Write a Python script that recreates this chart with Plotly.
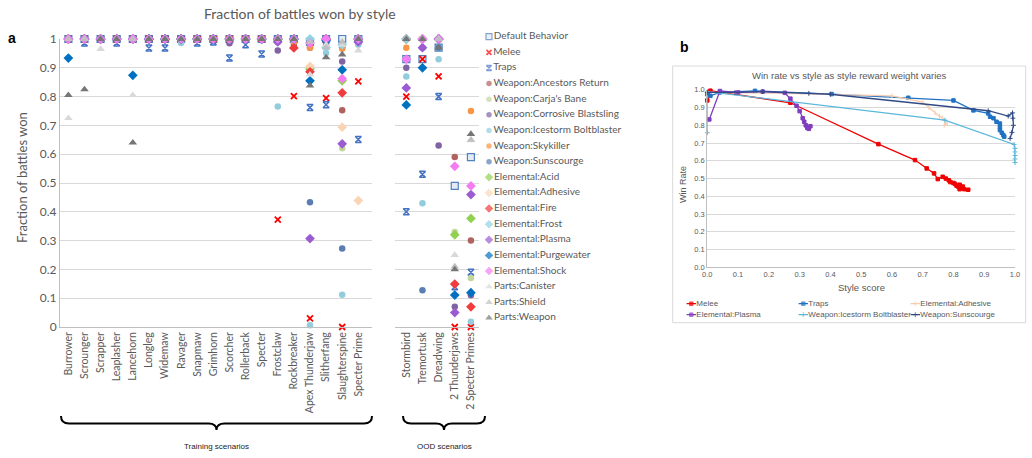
import plotly.graph_objects as go

W, H = 1032, 458


def fx(px):
    return px / W


def fy(py):
    return 1 - py / H


# ---------------- Panel a data ----------------
train_cats = ["Burrower", "Scrounger", "Scrapper", "Leaplasher", "Lancehorn", "Longleg", "Widemaw",
              "Ravager", "Snapmaw", "Grimhorn", "Scorcher", "Rollerback", "Specter", "Frostclaw",
              "Rockbreaker", "Apex Thunderjaw", "Slitherfang", "Slaughterspine", "Specter Prime"]
ood_cats = ["Stormbird", "Tremortusk", "Dreadwing", "2 Thunderjaws", "2 Specter Primes"]

series_names = ["Default Behavior", "Melee", "Traps", "Weapon:Ancestors Return", "Weapon:Carja's Bane",
                "Weapon:Corrosive Blastsling", "Weapon:Icestorm Boltblaster", "Weapon:Skykiller",
                "Weapon:Sunscourge", "Elemental:Acid", "Elemental:Adhesive", "Elemental:Fire",
                "Elemental:Frost", "Elemental:Plasma", "Elemental:Purgewater", "Elemental:Shock",
                "Parts:Canister", "Parts:Shield", "Parts:Weapon"]

default_train = [1, 1, 1, 1, 1, 1, 1, 1, 1, 1, 1, 1, 1, 1, 1, 0.99, 1, 1.0, 1]
default_ood = [0.93, 0.93, 0.97, 0.49, 0.59]
melee_train = [1, 1, 1, 1, 1, 1, 1, 1, 1, 1, 1, 1, 1, 0.373, 0.802, 0.03, 0.795, 0.0, 0.853]
melee_ood = [0.80, 0.93, 0.87, 0.0, 0.0]
traps_train = [1, 0.986, 1, 0.986, 1, 0.969, 0.969, 1, 0.986, 0.99, 0.934, 0.98, 0.948, 1, 1, 0.762, 0.772, 0.98, 0.651]
traps_ood = [0.40, 0.53, 0.80, 0.14, 0.19]
ancestors_train = [1, 1, 1, 1, 1, 1, 1, 1, 1, 1, 1, 1, 1, 0.99, 0.98, 0.98, 0.99, 0.753, 0.99]
ancestors_ood = [1, 1, 1, 0.59, 0.30]
carja_train = [1, 1, 1, 1, 1, 1, 1, 1, 1, 1, 1, 1, 1, 1, 1, 0.99, 0.99, 0.621, 1]
carja_ood = [1, 1, 1, 0.33, 0.17]
corrosive_train = [1, 1, 1, 1, 1, 1, 1, 1, 1, 1, 0.985, 1, 1, 0.96, 1, 0.97, 0.98, 0.922, 0.985]
corrosive_ood = [0.90, 0.97, 0.63, 0.07, 0.11]
icestorm_train = [1, 1, 1, 1, 1, 1, 1, 0.986, 1, 1, 1, 1, 1, 0.766, 1, 0.006, 0.951, 0.112, 0.98]
icestorm_ood = [0.87, 0.43, 0.93, None, 0.018]
skykiller_train = [1, 1, 1, 1, 1, 1, 1, 1, 1, 1, 1, 1, 1, 0.99, 0.99, 0.97, 0.99, 0.966, 1]
skykiller_ood = [0.97, 1, 1, None, 0.75]
sunscourge_train = [1, 1, 1, 1, 1, 1, 1, 1, 1, 1, 1, 1, 1, 1, 1, 0.433, 0.99, 0.273, 1]
sunscourge_ood = [1, 0.128, 0.97, None, None]
acid_train = [1, 1, 1, 1, 1, 1, 1, 1, 1, 1, 1, 1, 1, 1, 1, 0.896, 1, 0.855, 1]
acid_ood = [1, 1, 1, 0.32, 0.377]
adhesive_train = [1, 1, 1, 1, 1, 1, 1, 1, 1, 1, 1, 1, 1, 1, 1, 0.905, 1, 0.694, 0.439]
adhesive_ood = [1, 1, 1, None, None]
fire_train = [1, 1, 1, 1, 1, 1, 1, 1, 1, 1, 1, 1, 1, 1, 0.969, 0.886, 1, 0.813, 1]
fire_ood = [1, 1, 1, 0.149, 0.07]
frost_train = [1, 1, 1, 1, 1, 1, 1, 1, 1, 1, 1, 1, 1, 1, 1, 1, 0.97, 0.98, 1]
frost_ood = [1, 1, 1, None, None]
plasma_train = [1, 1, 1, 1, 1, 1, 1, 1, 1, 1, 1, 1, 1, 0.99, 1, 0.307, 1, 0.636, 0.99]
plasma_ood = [0.83, 0.97, 1, 0.05, 0.46]
purgewater_train = [0.934, 1, 1, 1, 0.874, 1, 1, 1, 1, 1, 1, 1, 1, 1, 1, 0.855, 0.995, 0.893, 1]
purgewater_ood = [0.771, 0.90, 1, 0.111, 0.119]
shock_train = [1, 1, 1, 1, 1, 1, 1, 1, 1, 1, 1, 1, 1, 1, 1, 0.986, 1, 0.862, 1]
shock_ood = [0.93, 1, 1, 0.558, 0.49]
canister_train = [0.725, 1, 0.965, 1, 0.805, 1, 1, 1, 1, 1, 1, 1, 1, 1, 1, 0.876, 0.98, 0.98, 0.96]
canister_ood = [1, 1, 1, 0.25, 0.648]
shield_train = [1, 1, 1, 1, 1, 1, 1, 1, 1, 1, 1, 1, 1, 1, 1, 0.99, 0.97, 0.99, 1]
shield_ood = [1, 1, 1, 0.21, 0.65]
weapon_train = [0.805, 0.825, 1, 1, 0.64, 1, 1, 1, 1, 1, 1, 1, 1, 1, 1, 0.838, 0.936, 0.946, 1]
weapon_ood = [1, 1, 0.97, 0.20, 0.67]

train_values = [default_train, melee_train, traps_train, ancestors_train, carja_train, corrosive_train,
                icestorm_train, skykiller_train, sunscourge_train, acid_train, adhesive_train, fire_train,
                frost_train, plasma_train, purgewater_train, shock_train, canister_train, shield_train,
                weapon_train]
ood_values = [default_ood, melee_ood, traps_ood, ancestors_ood, carja_ood, corrosive_ood, icestorm_ood,
              skykiller_ood, sunscourge_ood, acid_ood, adhesive_ood, fire_ood, frost_ood, plasma_ood,
              purgewater_ood, shock_ood, canister_ood, shield_ood, weapon_ood]

y_ticks = [0, 0.1, 0.2, 0.3, 0.4, 0.5, 0.6, 0.7, 0.8, 0.9, 1]
y_tick_text = ["0", "0.1", "0.2", "0.3", "0.4", "0.5", "0.6", "0.7", "0.8", "0.9", "1"]

# styles (panel a)
sym = ["square", "x-thin-open", "hourglass-open", "circle", "circle", "circle", "circle", "circle", "circle",
       "diamond", "diamond", "diamond", "diamond", "diamond", "diamond", "diamond",
       "triangle-up", "triangle-up", "triangle-up"]
col = ["#E3EBF6", "#FF0000", "#4472C4", "#B0625F", "#C3D69B", "#8064A2", "#93CDDD", "#F79646", "#5B7DB1",
       "#92D050", "#FAD5B5", "#F03C3C", "#8ED3E6", "#9A5CD0", "#0070C0", "#F47CF2",
       "#D9D9D9", "#BFBFBF", "#767676"]
size = [7, 6, 6, 6.5, 6.5, 6.5, 6.5, 6.5, 6.5, 7.5, 7.5, 7.5, 7.5, 7.5, 7.5, 7.5, 7.5, 7.5, 7.5]
lcol = ["#4F81BD", "#FF0000", "#4472C4"] + ["rgba(0,0,0,0)"] * 16
lw = [1.2, 1.8, 1.5] + [0] * 16

# ---------------- Panel b data ----------------
melee_style = [0.0, 0.01, 0.27, 0.556, 0.675, 0.713, 0.737, 0.749, 0.765, 0.775, 0.785, 0.79, 0.80, 0.805,
               0.81, 0.815, 0.82, 0.825, 0.82, 0.83, 0.835, 0.848]
melee_win = [0.94, 0.995, 0.927, 0.694, 0.604, 0.557, 0.529, 0.497, 0.51, 0.50, 0.49, 0.48, 0.475, 0.47,
             0.46, 0.455, 0.465, 0.45, 0.44, 0.455, 0.44, 0.437]
traps_style = [0.0, 0.01, 0.04, 0.155, 0.404, 0.653, 0.80, 0.865, 0.913, 0.919, 0.93, 0.94, 0.951, 0.951,
               0.951, 0.957, 0.962, 0.965]
traps_win = [0.975, 0.966, 0.985, 0.994, 0.976, 0.955, 0.94, 0.884, 0.867, 0.848, 0.84, 0.82, 0.81, 0.79,
             0.773, 0.758, 0.745, 0.736]
adhesive_style = [0.0, 0.26, 0.60, 0.70, 0.72, 0.74, 0.755, 0.765, 0.775, 0.77, 0.78]
adhesive_win = [0.985, 0.98, 0.966, 0.93, 0.90, 0.87, 0.85, 0.84, 0.82, 0.80, 0.81]
plasma_style = [0.0065, 0.041, 0.10, 0.18, 0.252, 0.27, 0.29, 0.30, 0.31, 0.315, 0.32, 0.325, 0.33, 0.335, 0.33]
plasma_win = [0.833, 0.993, 0.985, 0.99, 0.983, 0.95, 0.91, 0.88, 0.84, 0.82, 0.80, 0.785, 0.79, 0.795, 0.78]
icestorm_style = [0.0, 0.0, 0.772, 0.997, 1.0, 1.0, 1.0, 1.0, 1.0]
icestorm_win = [0.758, 0.99, 0.829, 0.692, 0.67, 0.65, 0.63, 0.61, 0.59]
sunscourge_style = [0.0, 0.09, 0.18, 0.33, 0.40, 0.913, 0.978, 0.992, 0.993, 0.995, 0.99, 0.984]
sunscourge_win = [0.985, 0.985, 0.99, 0.98, 0.975, 0.882, 0.852, 0.87, 0.84, 0.80, 0.76, 0.726]

b_names = ["Melee", "Traps", "Elemental:Adhesive", "Elemental:Plasma", "Weapon:Icestorm Boltblaster",
           "Weapon:Sunscourge"]
b_x = [melee_style, traps_style, adhesive_style, plasma_style, icestorm_style, sunscourge_style]
b_y = [melee_win, traps_win, adhesive_win, plasma_win, icestorm_win, sunscourge_win]
b_col = ["#F00000", "#1F73C4", "#F8CBAD", "#7F3FBF", "#5BB8DA", "#2F4A86"]
b_sym = ["square", "square", "line-ns-open", "square", "cross-thin-open", "cross-thin-open"]
b_ticks = [0.0, 0.1, 0.2, 0.3, 0.4, 0.5, 0.6, 0.7, 0.8, 0.9, 1.0]

GRAY = "#595959"
FA = "Lato"
FB = "Liberation Sans"

fig = go.Figure()

# panel a traces
for i, name in enumerate(series_names):
    mk = dict(symbol=sym[i], color=col[i], size=size[i], line=dict(color=lcol[i], width=lw[i]))
    fig.add_trace(go.Scatter(x=train_cats, y=train_values[i], mode="markers", marker=mk, name=name,
                             cliponaxis=False, xaxis="x", yaxis="y", showlegend=False))
    fig.add_trace(go.Scatter(x=ood_cats, y=ood_values[i], mode="markers", marker=mk, name=name,
                             cliponaxis=False, xaxis="x2", yaxis="y2", showlegend=False))

# panel a legend (drawn on its own hidden axes, one row per series)
fig.add_trace(go.Scatter(
    x=[0] * len(series_names), y=list(range(len(series_names))), mode="markers+text",
    text=series_names, textposition="middle right",
    textfont=dict(family=FA, size=10, color=GRAY),
    marker=dict(symbol=sym, color=col, size=[s - 1 for s in size], line=dict(color=lcol, width=lw)),
    cliponaxis=False, xaxis="x3", yaxis="y3", showlegend=False))

# panel b traces
for i, name in enumerate(b_names):
    fig.add_trace(go.Scatter(x=b_x[i], y=b_y[i], mode="lines+markers", name=name,
                             line=dict(color=b_col[i], width=1.3),
                             marker=dict(symbol=b_sym[i], size=3.5, color=b_col[i],
                                         line=dict(color=b_col[i], width=1)),
                             cliponaxis=False, xaxis="x4", yaxis="y4", showlegend=False))

# panel b legend (3 columns x 2 rows)
for i, name in enumerate(b_names):
    c, r = i % 3, i // 3
    fig.add_trace(go.Scatter(x=[c - 0.042, c, c + 0.042], y=[r, r, r], mode="lines+markers",
                             line=dict(color=b_col[i], width=1.3),
                             marker=dict(symbol=b_sym[i], size=[0, 3.5, 0], color=b_col[i],
                                         line=dict(color=b_col[i], width=1)),
                             cliponaxis=False, xaxis="x5", yaxis="y5", showlegend=False))
    fig.add_trace(go.Scatter(x=[c + 0.045], y=[r], mode="text", text=[name], textposition="middle right",
                             textfont=dict(family=FB, size=8, color=GRAY),
                             cliponaxis=False, xaxis="x5", yaxis="y5", showlegend=False))

hidden = dict(visible=False, showgrid=False, zeroline=False, fixedrange=True)

fig.update_layout(
    width=W, height=H, margin=dict(l=0, r=0, t=0, b=0, pad=0, autoexpand=False),
    paper_bgcolor="white", plot_bgcolor="white", showlegend=False, hovermode=False,
    font=dict(family=FA, color=GRAY),
    xaxis=dict(domain=[fx(60), fx(372)], type="category", categoryorder="array", categoryarray=train_cats,
               range=[-0.52, 18.85], tickangle=-90, showline=True, linecolor="#BFBFBF", linewidth=1,
               ticks="", showgrid=False, zeroline=False, tickfont=dict(family=FA, size=10.5, color=GRAY),
               anchor="y", automargin=False),
    yaxis=dict(domain=[fy(327), fy(39)], range=[0, 1], tickvals=y_ticks, ticktext=y_tick_text,
               showgrid=True, gridcolor="#D9D9D9", gridwidth=1, showline=True, linecolor="#BFBFBF",
               zeroline=False, ticks="", tickfont=dict(family=FA, size=12, color=GRAY), anchor="x",
               automargin=False),
    xaxis2=dict(domain=[fx(395), fx(479)], type="category", categoryorder="array", categoryarray=ood_cats,
                range=[-0.7, 4.5], tickangle=-90, showline=True, linecolor="#BFBFBF", ticks="",
                showgrid=False, zeroline=False, tickfont=dict(family=FA, size=10.5, color=GRAY), anchor="y2",
                automargin=False),
    yaxis2=dict(domain=[fy(327), fy(39)], range=[0, 1], tickvals=y_ticks, showticklabels=False,
                showgrid=True, gridcolor="#D9D9D9", showline=False, zeroline=False, ticks="", anchor="x2",
                automargin=False),
    xaxis3=dict(domain=[fx(485), fx(645)], range=[-0.025, 0.975], anchor="y3", **hidden),
    yaxis3=dict(domain=[fy(341.3), fy(28.9)], range=[19.5, -0.5], anchor="x3", **hidden),
    xaxis4=dict(domain=[fx(707.3), fx(1015)], range=[0, 1], tickvals=b_ticks, tickformat=".1f",
                showgrid=False, showline=True, linecolor="#BFBFBF", zeroline=False, ticks="",
                tickfont=dict(family=FB, size=7.5, color=GRAY), anchor="y4", automargin=False),
    yaxis4=dict(domain=[fy(267.3), fy(89.8)], range=[0, 1], tickvals=b_ticks, tickformat=".1f",
                showgrid=True, gridcolor="#D9D9D9", showline=True, linecolor="#BFBFBF", zeroline=False,
                ticks="", tickfont=dict(family=FB, size=7.5, color=GRAY), anchor="x4", automargin=False),
    xaxis5=dict(domain=[fx(672), fx(1032)], range=[-0.1723, 3.0419], anchor="y5", **hidden),
    yaxis5=dict(domain=[fy(325.7), fy(292.7)], range=[2, -1], anchor="x5", **hidden),
)


def brace(x0, x1, ytop, ymid, ytip, r=8):
    xm = (x0 + x1) / 2
    pts = lambda x, y: f"{fx(x)},{fy(y)}"
    return (f"M {pts(x0, ytop)} Q {pts(x0, ymid)} {pts(x0 + r, ymid)} L {pts(xm - r, ymid)} "
            f"Q {pts(xm, ymid)} {pts(xm, ytip)} Q {pts(xm, ymid)} {pts(xm + r, ymid)} "
            f"L {pts(x1 - r, ymid)} Q {pts(x1, ymid)} {pts(x1, ytop)}")


shapes = [
    dict(type="path", xref="paper", yref="paper", path=brace(61, 372, 416, 423.5, 430),
         line=dict(color="black", width=2)),
    dict(type="path", xref="paper", yref="paper", path=brace(403, 485, 416, 423.5, 430),
         line=dict(color="black", width=2)),
    dict(type="rect", xref="paper", yref="paper", x0=fx(672.7), x1=fx(1025.7), y0=fy(322.7), y1=fy(66),
         line=dict(color="#D9D9D9", width=1)),
]
fig.update_layout(shapes=shapes)

ann = [
    dict(text="Fraction of battles won by style", x=fx(300), y=fy(14), font=dict(family=FA, size=14, color=GRAY)),
    dict(text="<b>a</b>", x=fx(12), y=fy(38), font=dict(family=FB, size=14, color="black")),
    dict(text="<b>b</b>", x=fx(684), y=fy(47), font=dict(family=FB, size=14, color="black")),
    dict(text="Fraction of battles won", x=fx(22), y=fy(178), textangle=-90,
         font=dict(family=FA, size=13, color=GRAY)),
    dict(text="Training scenarios", x=fx(216.7), y=fy(446), font=dict(family=FB, size=8, color="#222222")),
    dict(text="OOD scenarios", x=fx(444), y=fy(446), font=dict(family=FB, size=8, color="#222222")),
    dict(text="Win rate vs style as style reward weight varies", x=fx(849), y=fy(76),
         font=dict(family=FB, size=9.5, color=GRAY)),
    dict(text="Style score", x=fx(861), y=fy(287), font=dict(family=FB, size=9.5, color=GRAY)),
    dict(text="Win Rate", x=fx(683), y=fy(185), textangle=-90, font=dict(family=FB, size=9, color=GRAY)),
]
for a in ann:
    a.update(xref="paper", yref="paper", showarrow=False, xanchor="center", yanchor="middle")
fig.update_layout(annotations=ann)

fig.write_html("out.html")
